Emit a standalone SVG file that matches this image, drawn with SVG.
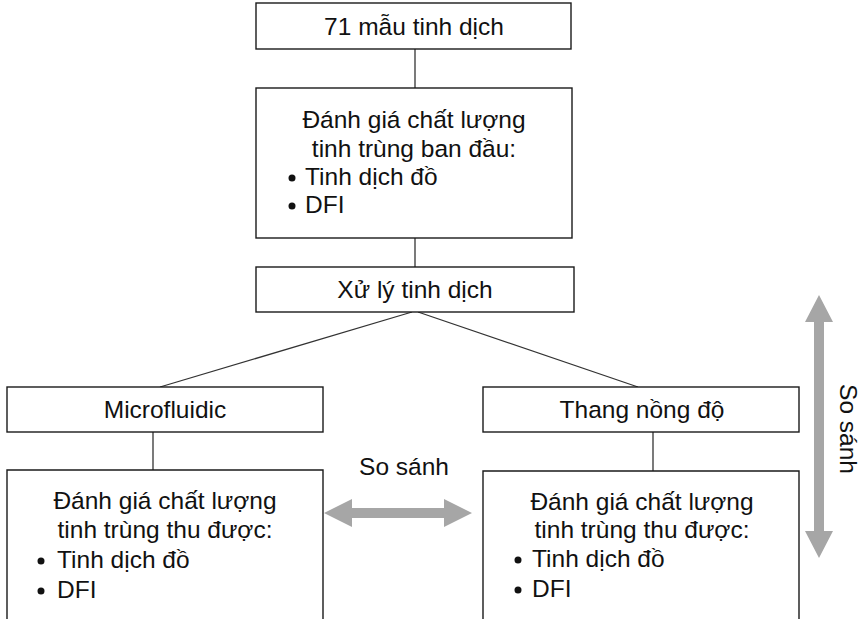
<svg xmlns="http://www.w3.org/2000/svg" width="862" height="619" viewBox="0 0 862 619">
<style>
.box{fill:#fff;stroke:#1a1a1a;stroke-width:1.4}
.t{font-family:"Liberation Sans",Arial,sans-serif;font-size:24.5px;fill:#111}
.c{text-anchor:middle}
.ln{stroke:#333;stroke-width:1.3;fill:none}
.arr{fill:#a6a6a6}
</style>
<rect width="862" height="619" fill="#fff"/>
<g id="connectors">
<line class="ln" x1="415" y1="49" x2="415" y2="88"/>
<line class="ln" x1="415" y1="238" x2="415" y2="267"/>
<line class="ln" x1="412" y1="312" x2="160" y2="387"/>
<line class="ln" x1="418" y1="312" x2="638" y2="387"/>
<line class="ln" x1="153" y1="432" x2="153" y2="470"/>
<line class="ln" x1="653" y1="432" x2="653" y2="471"/>
</g>
<g id="n1">
<rect class="box" x="256" y="3" width="315" height="46"/>
<text class="t c" x="414" y="35">71 mẫu tinh dịch</text>
</g>
<g id="n2">
<rect class="box" x="256" y="88" width="316" height="150"/>
<text class="t c" x="414" y="128">Đánh giá chất lượng</text>
<text class="t c" x="414" y="157">tinh trùng ban đầu:</text>
<circle cx="292" cy="178" r="3.5" fill="#111"/>
<text class="t" x="305" y="185">Tinh dịch đồ</text>
<circle cx="292" cy="206" r="3.5" fill="#111"/>
<text class="t" x="305" y="213">DFI</text>
</g>
<g id="n3">
<rect class="box" x="256" y="267" width="318" height="45"/>
<text class="t c" x="415" y="298">Xử lý tinh dịch</text>
</g>
<g id="n4">
<rect class="box" x="7" y="387" width="316" height="45"/>
<text class="t c" x="165" y="418">Microfluidic</text>
</g>
<g id="n5">
<rect class="box" x="483" y="387" width="316" height="45"/>
<text class="t c" x="642" y="418">Thang nồng độ</text>
</g>
<g id="n6">
<path class="box" d="M7,625 V470 H323 V625"/>
<text class="t c" x="165" y="509">Đánh giá chất lượng</text>
<text class="t c" x="165" y="538">tinh trùng thu được:</text>
<circle cx="41" cy="561" r="3.5" fill="#111"/>
<text class="t" x="57" y="568">Tinh dịch đồ</text>
<circle cx="41" cy="591" r="3.5" fill="#111"/>
<text class="t" x="57" y="598">DFI</text>
</g>
<g id="n7">
<path class="box" d="M483,625 V471 H799 V625"/>
<text class="t c" x="642" y="510">Đánh giá chất lượng</text>
<text class="t c" x="642" y="538">tinh trùng thu được:</text>
<circle cx="518" cy="560" r="3.5" fill="#111"/>
<text class="t" x="532" y="567">Tinh dịch đồ</text>
<circle cx="518" cy="590" r="3.5" fill="#111"/>
<text class="t" x="532" y="597">DFI</text>
</g>
<g id="compare-h">
<polygon class="arr" points="324,513 352,499 352,508 444,508 444,499 472,513 444,527 444,518 352,518 352,527"/>
<text class="t c" x="404" y="475">So sánh</text>
</g>
<g id="compare-v">
<polygon class="arr" points="819,295 833,322 824,322 824,531 833,531 819,558 805,531 814,531 814,322 805,322"/>
<text class="t c" transform="translate(840,429) rotate(90)" x="0" y="0">So sánh</text>
</g>
</svg>
